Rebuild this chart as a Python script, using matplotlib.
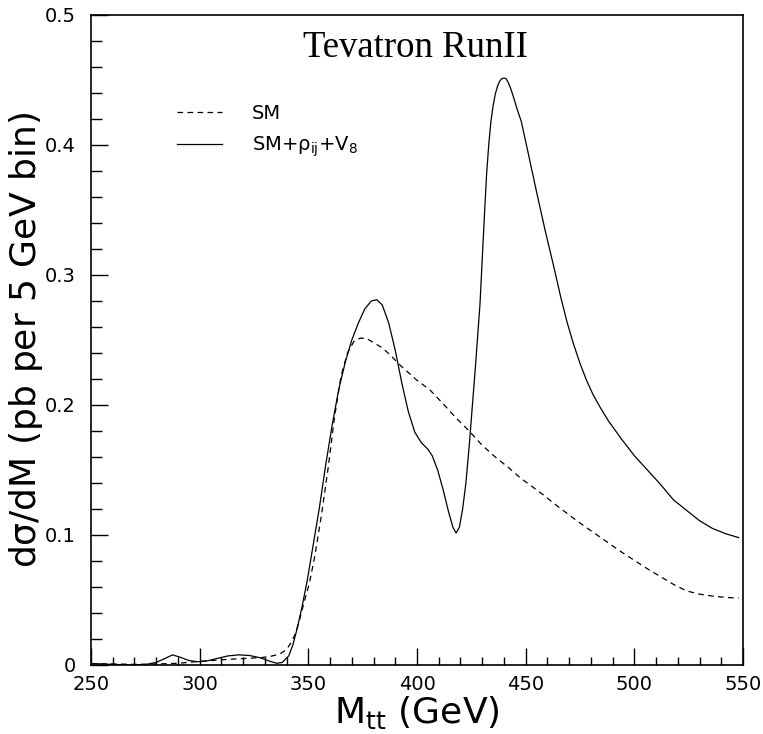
import matplotlib
matplotlib.use("Agg")
import matplotlib.pyplot as plt
from matplotlib.ticker import MultipleLocator, FixedLocator

# ---- data ----
m_full = [250, 255, 260, 265, 270, 275, 280, 284, 287.5, 291, 295, 299, 303, 308,
          313, 318, 323, 328, 332, 335.5, 338, 341, 343, 345, 347, 349.5, 352, 355,
          358, 361, 364, 367, 370, 373, 376, 379, 381.5, 384, 387, 390, 393, 396,
          399, 402, 405, 407, 409.5, 412, 414.5, 416.5, 418, 419.5, 421, 422.5, 424,
          425.5, 427, 428, 429, 430, 431, 432, 433, 434, 435, 436, 437, 438, 439,
          440, 441, 442, 443, 444, 446, 448, 451, 455, 459, 463, 466, 469, 472, 475,
          478, 481, 484, 488, 494, 500, 506, 512, 518, 524, 530, 536, 542, 548]
sig_full = [0.0012, 0.0008, 0.0005, 0.0002, 0.0, 0.0003, 0.002, 0.005, 0.0078, 0.006,
            0.0035, 0.0025, 0.003, 0.005, 0.007, 0.0078, 0.0073, 0.0055, 0.003, 0.0013,
            0.002, 0.007, 0.016, 0.029, 0.044, 0.065, 0.09, 0.12, 0.154, 0.185, 0.212,
            0.233, 0.25, 0.263, 0.274, 0.28, 0.281, 0.277, 0.263, 0.242, 0.217, 0.195,
            0.179, 0.171, 0.166, 0.161, 0.15, 0.135, 0.118, 0.106, 0.1015, 0.106, 0.12,
            0.14, 0.168, 0.2, 0.232, 0.255, 0.278, 0.312, 0.345, 0.377, 0.4, 0.418,
            0.43, 0.439, 0.445, 0.449, 0.451, 0.4515, 0.451, 0.448, 0.444, 0.439,
            0.428, 0.418, 0.395, 0.364, 0.334, 0.306, 0.284, 0.264, 0.247, 0.232,
            0.219, 0.208, 0.199, 0.188, 0.174, 0.161, 0.15, 0.139, 0.127, 0.119,
            0.111, 0.105, 0.101, 0.098]

m_sm = [250, 260, 270, 280, 290, 300, 310, 320, 328, 333, 337, 340, 342, 344, 346,
        348, 350.5, 353, 356, 359, 362, 365, 368, 371, 374, 377, 380, 384, 388, 392,
        396, 400, 406, 412, 418, 424, 430, 436, 442, 448, 452, 458, 464, 470, 476,
        482, 488, 494, 500, 506, 512, 518, 524, 530, 536, 542, 548]
sig_sm = [0.001, 0.0008, 0.0005, 0.0008, 0.0013, 0.0028, 0.004, 0.005, 0.0056, 0.0068,
          0.0085, 0.012, 0.017, 0.024, 0.035, 0.048, 0.063, 0.084, 0.115, 0.15, 0.19,
          0.222, 0.24, 0.249, 0.2515, 0.251, 0.248, 0.244, 0.238, 0.231, 0.225, 0.219,
          0.2115, 0.201, 0.19, 0.18, 0.169, 0.16, 0.152, 0.1433, 0.1385, 0.131, 0.123,
          0.1154, 0.108, 0.101, 0.094, 0.087, 0.0805, 0.074, 0.068, 0.062, 0.057,
          0.0545, 0.053, 0.052, 0.0515]

x_ticks = [250, 300, 350, 400, 450, 500, 550]
y_ticks = [0, 0.1, 0.2, 0.3, 0.4, 0.5]
y_tick_labels = ["0", "0.1", "0.2", "0.3", "0.4", "0.5"]

fig = plt.figure(figsize=(7.63, 7.34), dpi=100)
ax = fig.add_axes([91/763, 1-665/734, (743-91)/763, (665-15)/734])

sans = ["DejaVu Sans"]
ax.plot(m_sm, sig_sm, color="black", lw=0.9, linestyle=(0, (4.5, 3.5)), label="SM")
ax.plot(m_full, sig_full, color="black", lw=0.9, label=r"SM+$\mathregular{\rho_{ij}}$+V$_8$")

ax.set_xlim(250, 550)
ax.set_ylim(0, 0.5)
ax.xaxis.set_major_locator(FixedLocator(x_ticks))
ax.xaxis.set_minor_locator(MultipleLocator(10))
ax.yaxis.set_major_locator(FixedLocator(y_ticks))
ax.yaxis.set_minor_locator(MultipleLocator(0.02))
ax.set_yticklabels(y_tick_labels)
ax.tick_params(axis="x", which="major", direction="in", length=12, width=1, pad=7, labelsize=14)
ax.tick_params(axis="x", which="minor", direction="in", length=6, width=1)
ax.tick_params(axis="y", which="major", direction="in", length=12, width=1, pad=11, labelsize=14)
ax.tick_params(axis="y", which="minor", direction="in", length=8, width=1)
for lab in ax.get_xticklabels() + ax.get_yticklabels():
    lab.set_family(sans)
for s in ax.spines.values():
    s.set_linewidth(1.2)

ax.set_xlabel(r"M$_{\mathregular{tt}}$ (GeV)", fontsize=26, family=sans, labelpad=0)
ax.set_ylabel(r"d$\mathregular{\sigma}$/dM (pb per 5 GeV bin)", fontsize=26, family=sans, labelpad=0)

ax.text(0.498, 0.935, "Tevatron RunII", transform=ax.transAxes, ha="center", va="baseline",
        fontsize=26.5, family=["Liberation Serif", "DejaVu Serif"])

leg = ax.legend(loc="upper left", bbox_to_anchor=(0.132, 0.863), frameon=False,
                prop={"family": sans, "size": 14}, handlelength=2.3, handletextpad=1.55,
                labelspacing=0.58, borderpad=0, borderaxespad=0)

fig.savefig("out.png", dpi=100)
